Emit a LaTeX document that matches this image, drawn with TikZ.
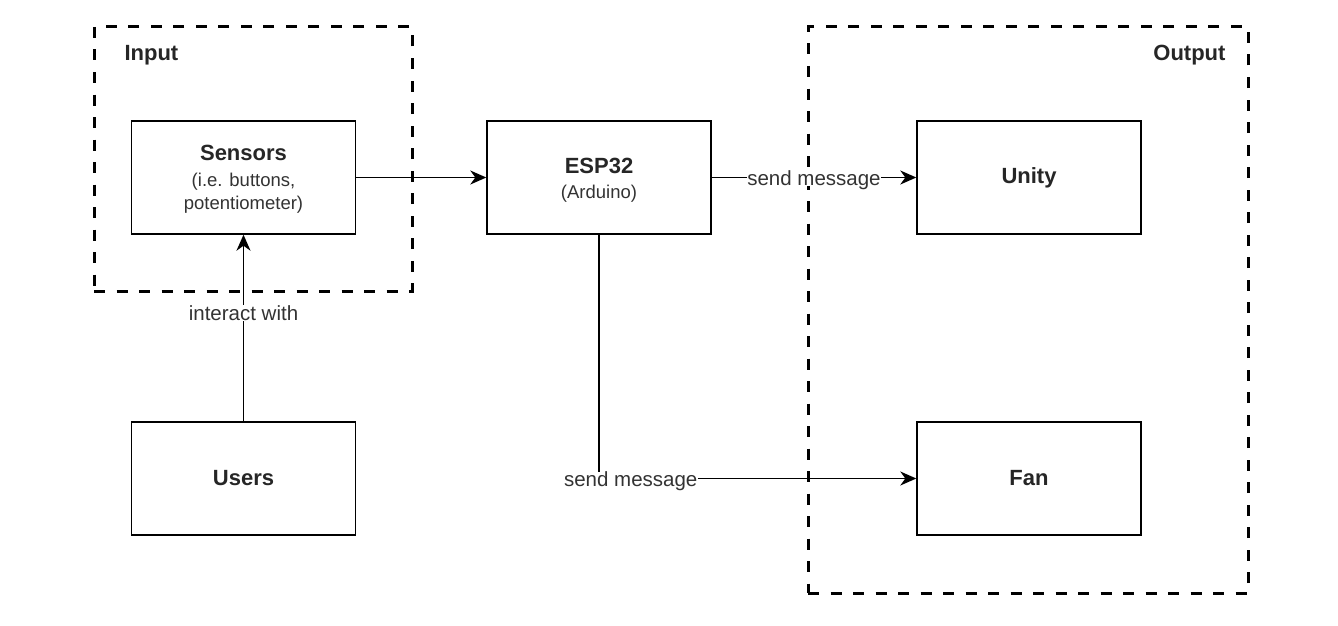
\documentclass[tikz,border=0pt]{standalone}
\usepackage{fontspec}
\setmainfont{Liberation Sans}
\usetikzlibrary{arrows.meta}
\begin{document}
\begin{tikzpicture}[x=1pt,y=1pt,
  box/.style={draw=black, line width=1.4pt, fill=white, minimum width=224pt, minimum height=113pt, inner sep=0pt, align=center, text=black!85},
  groupbox/.style={draw=black, line width=3pt, dash pattern=on 11pt off 11.5pt, minimum width=#1, inner sep=0pt},
  conn/.style={line width=1.5pt, -{Stealth[length=16pt,width=14pt,inset=5pt]}},
  elabel/.style={fill=white, inner sep=0.5pt, font=\fontsize{20.5}{24}\selectfont, text=black!80, text depth=0pt, yshift=-1pt},
  title/.style={font=\fontsize{22}{26}\selectfont\bfseries},
  sub/.style={font=\fontsize{18.5}{22}\selectfont}
]
\useasboundingbox (0,0) rectangle (1338,-626);
% groups
\node[groupbox=318pt, minimum height=264pt] (ingroup) at (253,-159) {};
\node[groupbox=440pt, minimum height=566pt] (outgroup) at (1028,-310) {};
\node[title, anchor=west, text=black!85] (inlabel) at (121,-55) {Input};
\node[title, anchor=east, text=black!85] (outlabel) at (1229,-55) {Output};
% boxes
\node[box] (sensors) at (243.5,-177.5) {};
\node[title, text=black!85] (sensorsT) at (243.5,-153) {Sensors};
\node[sub, text=black!80, align=center] (sensorsS) at (243.5,-193) {(i.e. buttons,\\[1.5pt]potentiometer)};
\node[box] (esp) at (599,-177.5) {};
\node[title, text=black!85] (espT) at (599,-166) {ESP32};
\node[sub, text=black!80] (espS) at (599,-194) {(Arduino)};
\node[box] (unity) at (1029,-177.5) {\fontsize{22}{26}\selectfont\bfseries Unity};
\node[box] (fan) at (1029,-478.5) {\fontsize{22}{26}\selectfont\bfseries Fan};
\node[box] (users) at (243.5,-478.5) {\fontsize{22}{26}\selectfont\bfseries Users};
% connectors
\draw[conn] (sensors.east) -- (esp.west);
\draw[conn] (esp.east) -- node[elabel] (l1) {send message} (unity.west);
\draw[conn] (esp.south) |- node[elabel, pos=0.55] (l2) {send message} (fan.west);
\draw[conn] (users.north) -- node[elabel, pos=0.585] (l3) {interact with} (sensors.south);
\end{tikzpicture}
\end{document}
